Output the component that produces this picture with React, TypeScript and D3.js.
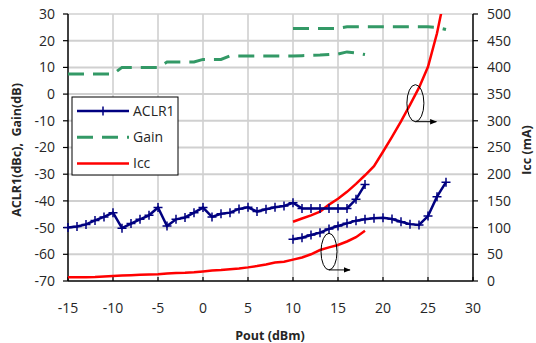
import * as d3 from 'd3';

const W = 536
const H = 343

// Pout (dBm) for the low-power sweep and for the high-power sweep
const poutLow = [-15,-14,-13,-12,-11,-10,-9,-8,-7,-6,-5,-4,-3,-2,-1,0,1,2,3,4,5,6,7,8,9,10,11,12,13,14,15,16,17,18]
const poutHigh = [10,11,12,13,14,15,16,17,18,19,20,21,22,23,24,25,26,27]

// ACLR1 (dBc)
const aclrLow = [-50,-49.6,-48.8,-47.3,-46,-44.4,-50.2,-48.5,-46.9,-45.4,-42.5,-49.4,-46.9,-46.2,-44.4,-42.5,-46,-44.8,-44.4,-43,-42.4,-44,-43.1,-42.4,-41.9,-40.7,-42.8,-42.8,-42.8,-42.8,-42.8,-42.8,-39.4,-33.9]
const aclrHigh = [-54.4,-53.8,-52.8,-51.9,-50.5,-49.4,-48.4,-47.4,-46.9,-46.5,-46.3,-46.8,-47.8,-48.7,-49,-45.7,-38.4,-33]

// Gain (dB)
const gainLow = [7.5,7.5,7.5,7.5,7.5,7.5,10,10,10,10,10,12,12,12,12,13,13,13,14.3,14.3,14.3,14.3,14.3,14.3,14.3,14.3,14.4,14.5,14.6,14.8,15,15.8,15.4,14.8]
const gainHigh = [24.6,24.6,24.6,24.6,24.6,24.6,25.2,25.2,25.2,25.2,25.2,25.2,25.2,25.2,25.2,25.2,25,24.2]

// Icc (mA)
const iccLow = [7,7,7,7.5,8.5,9.5,10.5,11,11.5,12,12.5,14,15,15.5,16.5,18,19.5,20.5,22,23.5,25.5,28,31,34.5,36,40,44,50,58,63,67.5,74,82,94]
const iccHigh = [111,117,123,130,143,154,167,182,198,215,242,270,299,330,362,401,464,545]

const xTicks = [-15,-10,-5,0,5,10,15,20,25,30]
const yLeftTicks = [30,20,10,0,-10,-20,-30,-40,-50,-60,-70]
const yRightTicks = [500,450,400,350,300,250,200,150,100,50,0]

const seriesNames = ['ACLR1', 'Gain', 'Icc']

const m = { left: 68, right: 473, top: 14, bottom: 281 }

const x = d3.scaleLinear().domain([-15, 30]).range([m.left, m.right])
const yL = d3.scaleLinear().domain([-70, 30]).range([m.bottom, m.top])
const yR = d3.scaleLinear().domain([0, 500]).range([m.bottom, m.top])

const lineL = d3.line<[number, number]>().x(d => x(d[0])).y(d => yL(d[1]))
const lineR = d3.line<[number, number]>().x(d => x(d[0])).y(d => yR(d[1]))

const zip = (a: number[], b: number[]) => a.map((v, i) => [v, b[i]] as [number, number])

const navy = '#000080'
const green = '#339966'
const red = '#ff0000'
const txt = '#262626'
const font = '"Open Sans", sans-serif'

function Plus({ px, py }: { px: number, py: number }) {
  return <path d={`M${px - 4.5},${py}H${px + 4.5}M${px},${py - 4.5}V${py + 4.5}`} stroke={navy} strokeWidth={1.5} />
}

export default function App() {
  const aclr = [zip(poutLow, aclrLow), zip(poutHigh, aclrHigh)]
  const gain = [zip(poutLow, gainLow), zip(poutHigh, gainHigh)]
  const icc = [zip(poutLow, iccLow), zip(poutHigh, iccHigh)]

  // ellipse markers pointing to the right axis (Icc curves)
  const e1 = { cx: x(23.6), cy: yR(333), rx: 8.5, ry: 18.5 }
  const e2 = { cx: x(14.0), cy: yR(55), rx: 8, ry: 18.3 }

  return (
    <div style={{ position: 'fixed', left: 0, top: 0 }}>
      <svg width={W} height={H} style={{ display: 'block', background: '#fff' }} fontFamily={font}>
        <defs>
          <clipPath id="plot">
            <rect x={m.left} y={m.top} width={m.right - m.left} height={m.bottom - m.top} />
          </clipPath>
          <marker id="arr" viewBox="0 0 10 10" refX="9" refY="5" markerWidth="7" markerHeight="7" orient="auto">
            <path d="M0,1L10,5L0,9z" fill="#000" />
          </marker>
        </defs>

        {/* grid */}
        {xTicks.slice(1, -1).map(t => (
          <line key={'gx' + t} x1={x(t)} x2={x(t)} y1={m.top} y2={m.bottom} stroke="#d9d9d9" strokeWidth={2} />
        ))}
        {yLeftTicks.slice(0, -1).map(t => (
          <line key={'gy' + t} x1={m.left} x2={m.right} y1={yL(t)} y2={yL(t)} stroke="#d0d0d0" strokeWidth={t === 30 ? 1.5 : 2} />
        ))}

        {/* axes */}
        <line x1={m.left} x2={m.left} y1={m.top} y2={m.bottom} stroke="#000" strokeWidth={1.5} />
        <line x1={m.right} x2={m.right} y1={m.top} y2={m.bottom} stroke="#000" strokeWidth={1.5} />
        <line x1={m.left} x2={m.right} y1={m.bottom} y2={m.bottom} stroke="#000" strokeWidth={1.5} />
        {yLeftTicks.map(t => (
          <g key={'yl' + t}>
            <line x1={m.left - 5} x2={m.left} y1={yL(t)} y2={yL(t)} stroke="#000" strokeWidth={1.2} />
            <text x={55} y={yL(t)} dy="0.35em" textAnchor="end" fontSize={14} fill={txt}>{t}</text>
          </g>
        ))}
        {yRightTicks.map(t => (
          <g key={'yr' + t}>
            <line x1={m.right} x2={m.right + 5} y1={yR(t)} y2={yR(t)} stroke="#000" strokeWidth={1.2} />
            <text x={487} y={yR(t)} dy="0.35em" textAnchor="start" fontSize={14} fill={txt}>{t}</text>
          </g>
        ))}
        {xTicks.map(t => (
          <g key={'xt' + t}>
            <line x1={x(t)} x2={x(t)} y1={m.bottom - 4} y2={m.bottom} stroke="#000" strokeWidth={1.2} />
            <text x={x(t)} y={313} textAnchor="middle" fontSize={14} fill={txt}>{t}</text>
          </g>
        ))}

        {/* series */}
        <g clipPath="url(#plot)">
          {icc.map((d, i) => (
            <path key={'icc' + i} d={lineR(d) || ''} fill="none" stroke={red} strokeWidth={2.5} />
          ))}
        </g>
        {gain.map((d, i) => (
          <path key={'g' + i} d={lineL(d) || ''} fill="none" stroke={green} strokeWidth={3} strokeDasharray="16,9" />
        ))}
        {aclr.map((d, i) => (
          <g key={'a' + i}>
            <path d={lineL(d) || ''} fill="none" stroke={navy} strokeWidth={2.5} />
            {d.map((p, j) => <Plus key={j} px={x(p[0])} py={yL(p[1])} />)}
          </g>
        ))}

        {/* ellipse annotations */}
        {[e1, e2].map((e, i) => (
          <g key={'e' + i}>
            <ellipse cx={e.cx} cy={e.cy} rx={e.rx} ry={e.ry} fill="none" stroke="#000" strokeWidth={1} />
            <line x1={e.cx} x2={e.cx + 21} y1={e.cy + e.ry} y2={e.cy + e.ry} stroke="#000" strokeWidth={1} markerEnd="url(#arr)" />
          </g>
        ))}

        {/* legend */}
        <rect x={72} y={97} width={106} height={78} fill="#fff" stroke="#000" strokeWidth={1} />
        {seriesNames.map((n, i) => {
          const ly = 111 + i * 26.2
          return (
            <g key={n}>
              {i === 0 && <>
                <line x1={77} x2={129} y1={ly} y2={ly} stroke={navy} strokeWidth={2.5} />
                <Plus px={103} py={ly} />
              </>}
              {i === 1 && <line x1={77} x2={129} y1={ly} y2={ly} stroke={green} strokeWidth={3} strokeDasharray="16,9" />}
              {i === 2 && <line x1={77} x2={129} y1={ly} y2={ly} stroke={red} strokeWidth={2.5} />}
              <text x={133} y={ly} dy="0.35em" fontSize={14} fill={txt}>{n}</text>
            </g>
          )
        })}

        {/* axis titles */}
        <text transform="translate(21,150) rotate(-90)" textAnchor="middle" fontSize={12.5} fontWeight="bold" fill={txt}>{'ACLR1(dBc),\u00a0 Gain(dB)'}</text>
        <text transform="translate(531,150) rotate(-90)" textAnchor="middle" fontSize={12.5} fontWeight="bold" fill={txt}>Icc (mA)</text>
        <text x={270} y={340} textAnchor="middle" fontSize={12.5} fontWeight="bold" fill={txt}>Pout (dBm)</text>
      </svg>
    </div>
  )
}
